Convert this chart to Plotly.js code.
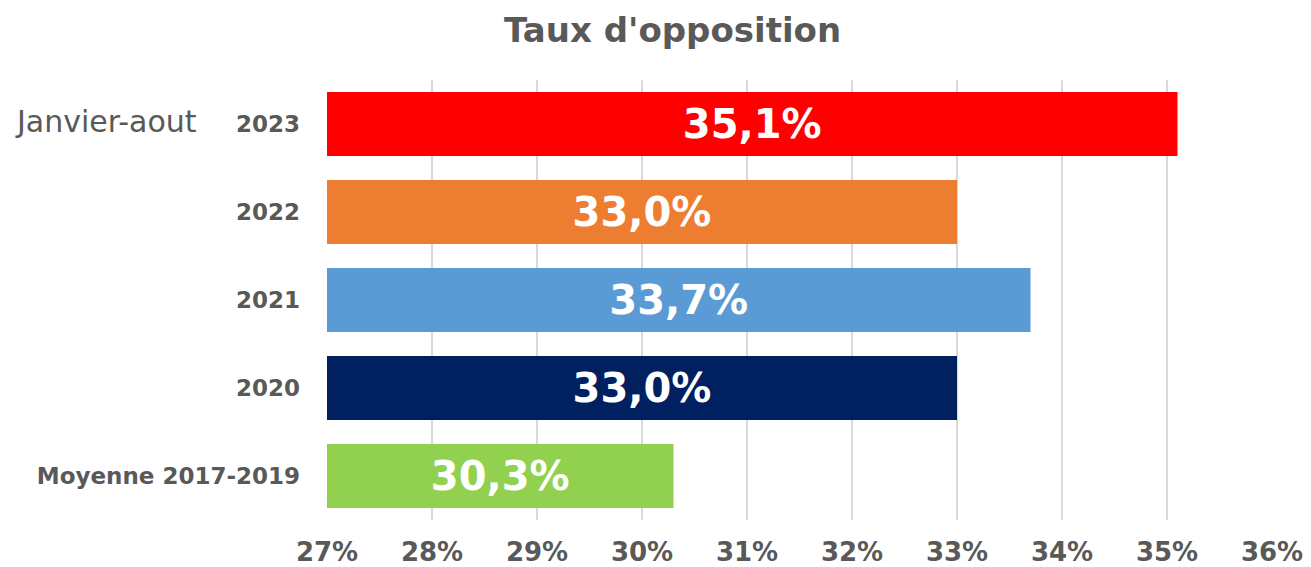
<!DOCTYPE html>
<html>
<head>
<meta charset="utf-8">
<script src="https://cdn.plot.ly/plotly-3.0.1.min.js"></script>
<style>html,body{margin:0;padding:0;background:#fff;}#chart{width:1311px;height:567px;}</style>
</head>
<body>
<div id="chart"></div>
<script>
const categories = ["Moyenne 2017-2019", "2020", "2021", "2022", "2023"];
const values = [30.3, 33.0, 33.7, 33.0, 35.1];
const colors = ["#92D050", "#002060", "#5B9BD5", "#ED7D31", "#FF0000"];
const tickVals = [27, 28, 29, 30, 31, 32, 33, 34, 35, 36];
const tickText = tickVals.map(v => v + "%");
const axisStart = 27;
const labels = values.map(v => v.toFixed(1).replace(".", ",") + "%");

const trace = {
  type: "bar",
  orientation: "h",
  y: categories,
  base: axisStart,
  x: values.map(v => v - axisStart),
  width: 0.73,
  marker: {color: colors, line: {width: 0}},
  text: labels,
  textposition: "inside",
  insidetextanchor: "middle",
  textangle: 0,
  textfont: {family: "DejaVu Sans", size: 40, color: "#ffffff", weight: 700},
  hoverinfo: "none"
};

const layout = {
  width: 1311, height: 567,
  margin: {l: 327, r: 39, t: 80, b: 47},
  paper_bgcolor: "#ffffff", plot_bgcolor: "#ffffff",
  showlegend: false,
  title: {
    text: "Taux d'opposition",
    font: {family: "DejaVu Sans", size: 34, color: "#595959", weight: 700},
    xref: "container", x: 0.513, xanchor: "center",
    yref: "container", y: 0.947, yanchor: "middle"
  },
  xaxis: {
    range: [27, 36],
    tickvals: tickVals, ticktext: tickText,
    showgrid: true, gridcolor: "#d9d9d9", gridwidth: 1.5,
    zeroline: false, showline: false, ticks: "",
    ticklabelstandoff: 14,
    tickfont: {family: "DejaVu Sans", size: 26, color: "#595959", weight: 700},
    fixedrange: true
  },
  yaxis: {
    type: "category",
    categoryorder: "array", categoryarray: categories,
    range: [-0.5, 4.5],
    showgrid: false, zeroline: false, showline: false, ticks: "",
    ticklabelstandoff: 26,
    tickfont: {family: "DejaVu Sans", size: 23, color: "#595959", weight: 700},
    fixedrange: true
  },
  annotations: [{
    text: "Janvier-aout",
    xref: "paper", yref: "y",
    x: -0.332, y: categories.indexOf("2023"), xanchor: "left", yanchor: "middle", yshift: 3,
    showarrow: false,
    font: {family: "DejaVu Sans", size: 30, color: "#595959"}
  }]
};

Plotly.newPlot("chart", [trace], layout, {displayModeBar: false, staticPlot: true});
</script>
</body>
</html>
